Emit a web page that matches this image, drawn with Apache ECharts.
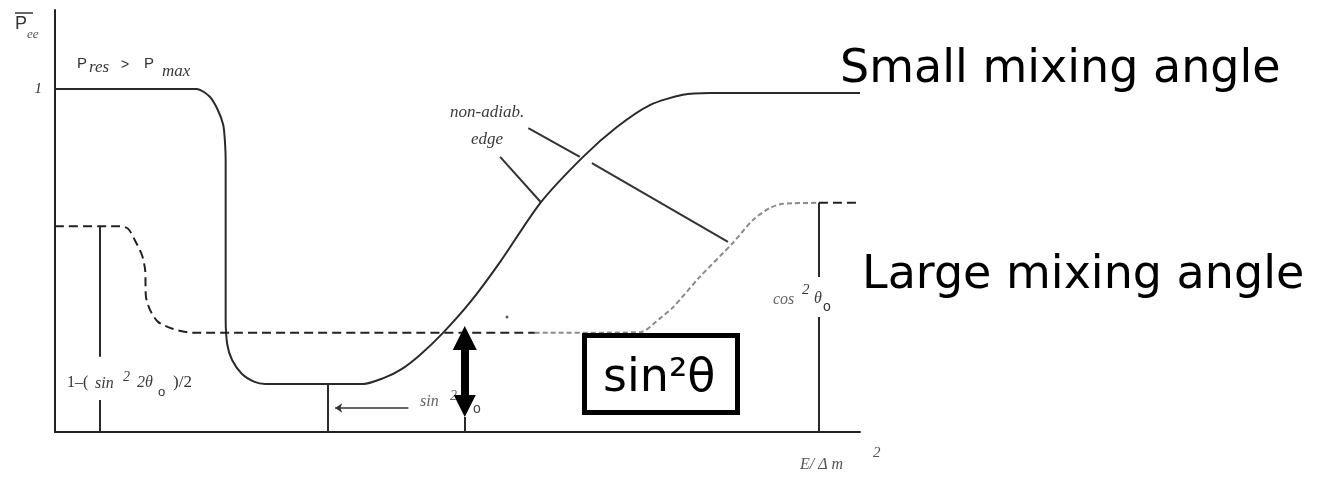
<!DOCTYPE html>
<html>
<head>
<meta charset="utf-8">
<title>Survival probability vs E/Δm²</title>
<script src="https://cdn.jsdelivr.net/npm/echarts@6/dist/echarts.min.js"></script>
<style>
  html, body { margin: 0; padding: 0; background: #fff; }
  #chart { width: 1337px; height: 478px; }
</style>
</head>
<body>
<div id="chart"></div>
<script>
// Energy axis runs 0..100 (arbitrary E/Δm² units), probability axis 0..1.23.
const energyRange = [0, 100];
const probRange = [0, 1.23];
const yTickLabels = ['1'];

// Small mixing angle: solid curve [E, P]
const smallAngleCurve = [
  [0, 1.0], [17.6, 1.0], [19.2, 0.978], [20.2, 0.94], [20.9, 0.895], [21.1, 0.85],
  [21.2, 0.79], [21.2, 0.33], [21.4, 0.255], [22.0, 0.21], [23.2, 0.17], [24.8, 0.146],
  [26.1, 0.14], [38.3, 0.14], [40.8, 0.157], [42.9, 0.181], [45.3, 0.224], [48.2, 0.289],
  [51.6, 0.379], [55.3, 0.496], [60.3, 0.668], [65.6, 0.802], [69.8, 0.889], [73.9, 0.953],
  [78.0, 0.983], [81.4, 0.988], [100, 0.988]
];

// Large mixing angle: dashed curve, drawn in three pieces
const largeAngleLeft = [
  [0, 0.6], [8.1, 0.6], [9.1, 0.592], [9.9, 0.56], [10.8, 0.516], [11.2, 0.472],
  [11.3, 0.394], [11.8, 0.356], [12.8, 0.321], [14.7, 0.3], [17.1, 0.289], [59.6, 0.289]
];
const largeAngleRise = [
  [59.6, 0.289], [72.7, 0.291], [75.2, 0.332], [76.8, 0.364], [80.1, 0.452], [84.2, 0.551],
  [86.7, 0.618], [88.8, 0.653], [90.4, 0.665], [94.9, 0.668]
];
const largeAngleTail = [[94.9, 0.668], [100, 0.668]];

// Vertical marker lines for the levels
const guideSegments = [
  [[5.6, 0.6], [5.6, 0.219]],
  [[5.6, 0.093], [5.6, 0]],
  [[33.9, 0.14], [33.9, 0]],
  [[50.9, 0.044], [50.9, 0]],
  [[94.9, 0.668], [94.9, 0.452]],
  [[94.9, 0.335], [94.9, 0]]
];
// Pointer strokes from the "non-adiab. edge" note
const pointerSegments = [
  [[55.3, 0.802], [60.3, 0.671]],
  [[58.8, 0.886], [65.2, 0.802]],
  [[66.7, 0.784], [83.6, 0.554]]
];
// Small arrow towards the sin² θ level marker
const levelArrow = [[43.9, 0.07], [34.8, 0.07]];
// Double arrow spanning sin²θ
const sinArrow = [[50.9, 0.274], [50.9, 0.076]];
const strayDot = [[56.15, 0.335]];

const ink = '#2a2a2a';
const serifItalic = (size, color) => ({
  fontFamily: 'Liberation Serif', fontStyle: 'italic', fontSize: size, fill: color || '#3a3a3a'
});
const txt = (text, x, y, style, extra) => Object.assign({
  type: 'text', x: x, y: y,
  style: Object.assign({ text: text, textVerticalAlign: 'middle' }, style)
}, extra || {});

const chart = echarts.init(document.getElementById('chart'), null, { renderer: 'canvas' });

chart.setOption({
  animation: false,
  backgroundColor: '#ffffff',
  grid: { left: 55, top: 10, width: 805, height: 422, containLabel: false },
  xAxis: {
    type: 'value', min: energyRange[0], max: energyRange[1],
    axisLine: { show: true, onZero: false, lineStyle: { color: '#222', width: 2 } },
    axisTick: { show: false }, axisLabel: { show: false }, splitLine: { show: false }
  },
  yAxis: {
    type: 'value', min: probRange[0], max: probRange[1], interval: 1,
    axisLine: { show: true, onZero: false, lineStyle: { color: '#222', width: 2 } },
    axisTick: { show: false }, splitLine: { show: false },
    axisLabel: {
      margin: 13,
      formatter: v => (v === 1 ? yTickLabels[0] : ''),
      fontFamily: 'Liberation Serif', fontStyle: 'italic', fontSize: 15, color: '#333'
    }
  },
  series: [
    {
      type: 'line', data: smallAngleCurve, symbol: 'none', smooth: 0.25,
      lineStyle: { color: ink, width: 2 }, z: 3
    },
    {
      type: 'line', data: largeAngleLeft, symbol: 'none', smooth: 0.25,
      lineStyle: { color: '#222', width: 2, type: [9, 5] }
    },
    {
      type: 'line', data: largeAngleRise, symbol: 'none', smooth: 0.25,
      lineStyle: { color: '#8a8a8a', width: 2, type: [5, 3] }
    },
    {
      type: 'line', data: largeAngleTail, symbol: 'none',
      lineStyle: { color: '#222', width: 2, type: [9, 5] }
    },
    {
      type: 'lines', coordinateSystem: 'cartesian2d',
      data: guideSegments.map(c => ({ coords: c })),
      lineStyle: { color: ink, width: 2, opacity: 1 }, symbol: 'none'
    },
    {
      type: 'lines', coordinateSystem: 'cartesian2d',
      data: pointerSegments.map(c => ({ coords: c })),
      lineStyle: { color: '#333', width: 2, opacity: 1 }, symbol: 'none'
    },
    {
      type: 'lines', coordinateSystem: 'cartesian2d',
      data: [{ coords: levelArrow }],
      lineStyle: { color: '#333', width: 1.5, opacity: 1 },
      symbol: ['none', 'arrow'], symbolSize: 7
    },
    {
      type: 'lines', coordinateSystem: 'cartesian2d',
      data: [{ coords: sinArrow }],
      lineStyle: { color: '#000', width: 8, opacity: 1 },
      symbol: ['triangle', 'triangle'], symbolSize: [24, 22], z: 5
    },
    {
      type: 'scatter', data: strayDot, symbolSize: 3,
      itemStyle: { color: '#333' }
    }
  ],
  graphic: [
    // vertical-axis title: P̄ with subscript
    { type: 'line', shape: { x1: 15, y1: 13, x2: 33, y2: 13 }, style: { stroke: '#333', lineWidth: 1.5 } },
    txt('P', 15, 24, { fontFamily: 'Liberation Sans', fontSize: 18, fill: '#333' }),
    txt('ee', 27, 35, serifItalic(13, '#555')),

    // P_res > P_max
    txt('P', 77, 64, { fontFamily: 'Liberation Sans', fontSize: 15, fill: '#333' }),
    txt('res', 89, 68, serifItalic(17)),
    txt('>', 121, 65, { fontFamily: 'Liberation Sans', fontSize: 14, fill: '#333' }),
    txt('P', 144, 64, { fontFamily: 'Liberation Sans', fontSize: 15, fill: '#333' }),
    txt('max', 162, 72, serifItalic(17)),

    // non-adiabatic edge note
    txt('non-adiab.', 450, 113, serifItalic(17)),
    txt('edge', 471, 140, serifItalic(17)),

    // 1-(sin² 2θo)/2
    txt('1\u2013(', 67, 383, { fontFamily: 'Liberation Serif', fontSize: 16, fill: '#333' }),
    txt('sin', 95, 384, serifItalic(16)),
    txt('2', 123, 377, serifItalic(14)),
    txt('2\u03b8', 137, 383, serifItalic(16)),
    txt('o', 158, 392, { fontFamily: 'Liberation Sans', fontSize: 13, fill: '#333' }),
    txt(')/2', 173, 383, { fontFamily: 'Liberation Serif', fontSize: 17, fill: '#333' }),

    // sin² θo near the bottom
    txt('sin', 420, 402, serifItalic(16, '#666')),
    txt('2', 450, 396, serifItalic(14, '#666')),
    txt('\u03b8', 460, 402, serifItalic(15, '#666')),
    txt('o', 473, 409, { fontFamily: 'Liberation Sans', fontSize: 14, fill: '#444' }),

    // cos² θo
    txt('cos', 773, 300, serifItalic(16, '#666')),
    txt('2', 802, 290, serifItalic(15)),
    txt('\u03b8', 814, 299, serifItalic(16)),
    txt('o', 823, 307, { fontFamily: 'Liberation Sans', fontSize: 14, fill: '#333' }),

    // horizontal-axis title
    txt('E/ \u0394 m', 800, 465, serifItalic(16, '#555')),
    txt('2', 873, 453, serifItalic(15, '#555')),

    // curve names
    txt('Small mixing angle', 840, 70, { fontFamily: 'DejaVu Sans', fontSize: 46, fill: '#000' }),
    txt('Large mixing angle', 862, 276, { fontFamily: 'DejaVu Sans', fontSize: 46, fill: '#000' }),

    // boxed sin²θ
    {
      type: 'rect', z: 100,
      shape: { x: 584.5, y: 335.5, width: 153, height: 77 },
      style: { fill: '#fff', stroke: '#000', lineWidth: 5 }
    },
    txt('sin\u00b2\u03b8', 603, 379, { fontFamily: 'DejaVu Sans', fontSize: 46, fill: '#000' }, { z: 101 })
  ]
});
</script>
</body>
</html>
